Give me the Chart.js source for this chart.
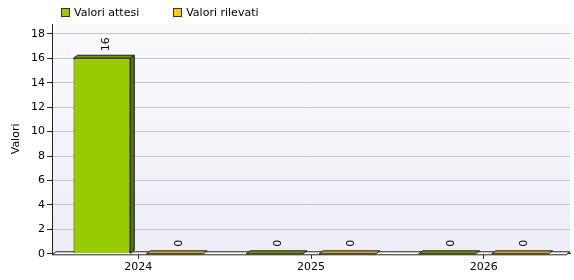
<!DOCTYPE html>
<html>
<head>
<meta charset="utf-8">
<script src="https://cdn.jsdelivr.net/npm/chart.js@4/dist/chart.umd.min.js"></script>
<style>
body { margin: 0; background: #fff; font-family: "DejaVu Sans", sans-serif; }
#wrap { position: relative; width: 574px; height: 280px; }
#legend { position: absolute; left: 61px; top: 6px; font-size: 11px; color: #000; display: flex; }
#legend span { display: flex; align-items: center; margin-right: 34px; }
#legend i { display: inline-block; width: 7px; height: 7px; border: 1px solid #333; margin-right: 4px; }
</style>
</head>
<body>
<div id="wrap">
  <canvas id="chart" width="574" height="280"></canvas>
  <div id="legend"></div>
</div>
<script>
const categories = ['2024', '2025', '2026'];
const seriesNames = ['Valori attesi', 'Valori rilevati'];
const valoriAttesi = [16, 0, 0];
const valoriRilevati = [0, 0, 0];
const yTickValues = [0, 2, 4, 6, 8, 10, 12, 14, 16, 18];
const yAxisMax = 18.8;

const fills = ['#99cc00', '#ffcc00'];
const sides = ['#557300', '#a88600'];
const tops = ['#6f9400', '#c9a227'];
const DX = 4, DY = 3;

// legend as html
document.getElementById('legend').innerHTML = seriesNames.map((n, i) =>
    `<span><i style="background:${fills[i]}"></i>${n}</span>`).join('');

const plot3d = {
    id: 'plot3d',
    beforeDraw(chart) {
        const { ctx, chartArea: a } = chart;
        const g = ctx.createLinearGradient(0, a.top, 0, a.bottom);
        g.addColorStop(0, '#fafafd');
        g.addColorStop(1, '#ededf7');
        ctx.save();
        ctx.fillStyle = g;
        ctx.fillRect(a.left, a.top, a.right - a.left, a.bottom - a.top);
        ctx.restore();
    },
    beforeDatasetsDraw(chart) {
        // floor slab
        const { ctx, chartArea: a } = chart;
        ctx.save();
        ctx.beginPath();
        ctx.moveTo(a.left, a.bottom + 1);
        ctx.lineTo(a.right - DX, a.bottom + 1);
        ctx.lineTo(a.right, a.bottom - DY + 1);
        ctx.lineTo(a.left + DX, a.bottom - DY + 1);
        ctx.closePath();
        ctx.fillStyle = '#fff';
        ctx.fill();
        ctx.strokeStyle = '#222';
        ctx.lineWidth = 1;
        ctx.stroke();
        ctx.restore();
    },
    afterDatasetsDraw(chart) {
        const { ctx } = chart;
        ctx.save();
        chart.data.datasets.forEach((ds, di) => {
            const meta = chart.getDatasetMeta(di);
            meta.data.forEach((bar, i) => {
                const l = bar.x - bar.width / 2, r = bar.x + bar.width / 2;
                const t = bar.y, b = bar.base;
                ctx.lineWidth = 1;
                ctx.strokeStyle = '#222';
                // side
                if (b - t > 0) {
                    ctx.beginPath();
                    ctx.moveTo(r, t); ctx.lineTo(r + DX, t - DY);
                    ctx.lineTo(r + DX, b - DY); ctx.lineTo(r, b);
                    ctx.closePath();
                    ctx.fillStyle = sides[di];
                    ctx.fill(); ctx.stroke();
                }
                // top
                ctx.beginPath();
                ctx.moveTo(l, t); ctx.lineTo(l + DX, t - DY);
                ctx.lineTo(r + DX, t - DY); ctx.lineTo(r, t);
                ctx.closePath();
                ctx.fillStyle = tops[di];
                ctx.fill(); ctx.stroke();
                // value label, rotated
                ctx.save();
                ctx.translate(bar.x + 4, t - DY - 4);
                ctx.rotate(-Math.PI / 2);
                ctx.font = '11px "DejaVu Sans"';
                ctx.fillStyle = '#000';
                ctx.textAlign = 'left';
                ctx.textBaseline = 'middle';
                ctx.fillText(String(ds.data[i]), 0, 0);
                ctx.restore();
            });
        });
        ctx.restore();
    }
};

new Chart(document.getElementById('chart'), {
    type: 'bar',
    data: {
        labels: categories,
        datasets: [
            { label: seriesNames[0], data: valoriAttesi, backgroundColor: fills[0], borderColor: '#222', borderWidth: 1 },
            { label: seriesNames[1], data: valoriRilevati, backgroundColor: fills[1], borderColor: '#222', borderWidth: 1 }
        ]
    },
    options: {
        responsive: false,
        animation: false,
        categoryPercentage: 0.844,
        barPercentage: 0.78,
        layout: { padding: { top: 24, left: 10, right: 4, bottom: 4 } },
        plugins: { legend: { display: false }, tooltip: { enabled: false } },
        scales: {
            x: {
                grid: { offset: false, drawOnChartArea: false, tickLength: 5, color: '#222' },
                border: { color: '#222' },
                ticks: { color: '#000', font: { family: 'DejaVu Sans', size: 11 }, padding: 2 },
            },
            y: {
                min: 0,
                max: yAxisMax,
                afterBuildTicks: s => { s.ticks = yTickValues.map(v => ({ value: v })); },
                afterFit: s => { s.width = 42; },
                grid: { color: '#c4c4cc', tickLength: 5, tickColor: '#222' },
                border: { color: '#222' },
                ticks: { color: '#000', font: { family: 'DejaVu Sans', size: 11 }, padding: 2 },
                title: { display: true, text: 'Valori', color: '#000', font: { family: 'DejaVu Sans', size: 11 }, padding: 0 }
            }
        }
    },
    plugins: [plot3d]
});
</script>
</body>
</html>
